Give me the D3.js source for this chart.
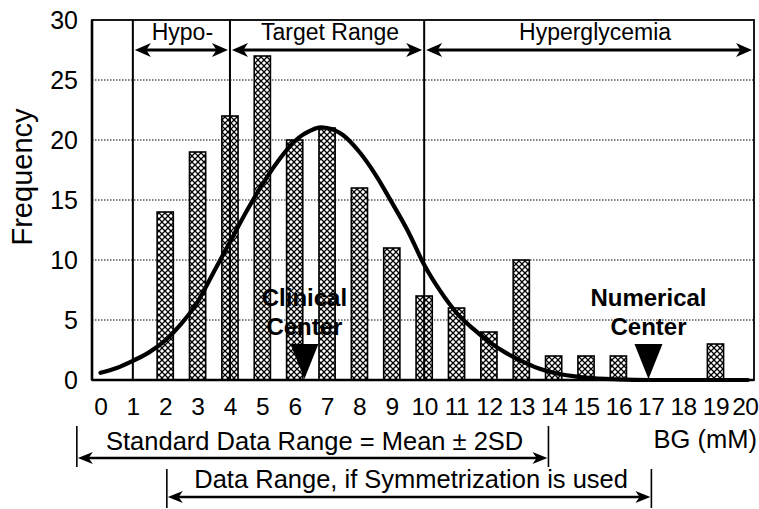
<!DOCTYPE html>
<html><head><meta charset="utf-8">
<script src="https://cdn.jsdelivr.net/npm/d3@7"></script>
<style>html,body{margin:0;padding:0;background:#fff;}svg{display:block;}text{font-family:"Liberation Sans",Arial,sans-serif;fill:#000;}</style>
</head><body><svg id="c" width="759" height="509"></svg>
<script>
// ---- data ----
const bgValues = d3.range(0, 21);               // BG categories (mM)
const frequencies = [0,0,14,19,22,27,20,21,16,11,7,6,4,10,2,2,2,0,0,3,0];
const xTicks = d3.range(0, 21);
const yTicks = [0,5,10,15,20,25,30];
const curveX = [0,0.5,1,1.5,2,2.5,3,3.5,4,4.5,5,5.5,6,6.5,6.8,7,7.5,8,8.5,9,9.5,10,10.5,11,11.5,12,12.5,13,13.5,14,15,16,17,18,19,20];
const curveY = [0.6,1.0,1.6,2.3,3.3,4.7,6.5,9.0,11.5,14.0,16.3,18.3,19.9,20.8,21.05,21.0,20.4,19.0,17.1,14.8,12.4,9.6,7.4,5.6,4.3,3.2,2.3,1.6,1.0,0.6,0.2,0.05,0,0,0,0];
const zoneBounds = [1, 4, 10];
const zoneLabels = ["Hypo-", "Target Range", "Hyperglycemia"];
const zoneRanges = [[1,4],[4,10],[10,20.19]];
const centerNames = [["Clinical","Center"],["Numerical","Center"]];
const centerValues = [6.3, 16.93];
const stdRange = [-0.73, 13.84];
const symRange = [2.05, 17.02];
const stdLabel = "Standard Data Range = Mean \u00b1 2SD";
const symLabel = "Data Range, if Symmetrization is used";

// ---- chart ----
const svg = d3.select("#c");
const x = d3.scaleLinear().domain([-0.262, 20.19]).range([92, 754]);
const y = d3.scaleLinear().domain([0, 30]).range([380, 20]);

const defs = svg.append("defs");
const P = 6;
const pat = defs.append("pattern").attr("id","hatch").attr("patternUnits","userSpaceOnUse")
  .attr("width",P).attr("height",P);
pat.append("rect").attr("width",P).attr("height",P).attr("fill","#fff");
pat.append("path").attr("d",`M-1,-1L${P+1},${P+1}M-1,${P+1}L${P+1},-1`).attr("stroke","#000").attr("stroke-width",1.25);

function arrowHead(g, tipX, tipY, dir, len, half) {
  const p = d3.path();
  p.moveTo(tipX, tipY);
  p.lineTo(tipX - dir*len, tipY - half);
  p.lineTo(tipX - dir*len*0.72, tipY);
  p.lineTo(tipX - dir*len, tipY + half);
  p.closePath();
  g.append("path").attr("d", p.toString()).attr("fill","#000");
}

// grid
svg.append("g").selectAll("line").data(yTicks.filter(d=>d>0 && d<30)).join("line")
  .attr("x1", x.range()[0]).attr("x2", x.range()[1])
  .attr("y1", d=>y(d)).attr("y2", d=>y(d))
  .attr("stroke","#000").attr("stroke-width",1).attr("stroke-dasharray","1.5,1.5");

// bars
const bw = x(0.25) - x(-0.25);
svg.append("g").selectAll("rect").data(bgValues.filter(v=>frequencies[v]>0)).join("rect")
  .attr("x", v => x(v) - bw/2).attr("width", bw)
  .attr("y", v => y(frequencies[v])).attr("height", v => y(0) - y(frequencies[v]))
  .attr("fill","url(#hatch)").attr("stroke","#000").attr("stroke-width",1.6);

// zone boundaries
svg.append("g").selectAll("line").data(zoneBounds).join("line")
  .attr("x1", d=>x(d)).attr("x2", d=>x(d)).attr("y1", y(30)).attr("y2", y(0))
  .attr("stroke","#000").attr("stroke-width",2);

// frame
svg.append("rect").attr("x", x.range()[0]).attr("y", y(30))
  .attr("width", x.range()[1]-x.range()[0]).attr("height", y(0)-y(30))
  .attr("fill","none").attr("stroke","#000").attr("stroke-width",1.8);
svg.append("line").attr("x1",x.range()[0]).attr("x2",x.range()[1]).attr("y1",y(0)).attr("y2",y(0))
  .attr("stroke","#000").attr("stroke-width",2.6);
svg.append("line").attr("x1",x.range()[0]).attr("x2",x.range()[0]).attr("y1",y(30)).attr("y2",y(0))
  .attr("stroke","#000").attr("stroke-width",2.6);

// curve
const line = d3.line().x((d,i)=>x(curveX[i])).y((d,i)=>y(curveY[i])).curve(d3.curveMonotoneX);
svg.append("path").datum(curveX).attr("d", line).attr("fill","none")
  .attr("stroke","#000").attr("stroke-width",4.2).attr("stroke-linecap","round");

// zone labels + arrows
const zg = svg.append("g");
const zoneDx = [1, 3, 6];
zoneRanges.forEach((r,i)=>{
  const a = x(r[0]) + 2, b = x(r[1]) - 2, yy = 50;
  zg.append("line").attr("x1",a+8).attr("x2",b-8).attr("y1",yy).attr("y2",yy)
    .attr("stroke","#000").attr("stroke-width",3.2);
  arrowHead(zg, a, yy, -1, 16, 7);
  arrowHead(zg, b, yy, 1, 16, 7);
  zg.append("text").attr("x",(x(r[0])+x(r[1]))/2 + zoneDx[i]).attr("y",40).attr("text-anchor","middle")
    .attr("font-size",23).text(zoneLabels[i]);
});

// center markers
const cg = svg.append("g");
centerValues.forEach((v,i)=>{
  const cx = x(v);
  cg.append("path").attr("d", `M${cx-14},344L${cx+14},344L${cx},${y(0)-1}Z`).attr("fill","#000");
  cg.append("text").attr("x",cx).attr("y",306).attr("text-anchor","middle")
    .attr("font-size",24).attr("font-weight","bold").text(centerNames[i][0]);
  cg.append("text").attr("x",cx).attr("y",335).attr("text-anchor","middle")
    .attr("font-size",24).attr("font-weight","bold").text(centerNames[i][1]);
});

// axes
const xa = svg.append("g").attr("transform",`translate(0,${y(0)})`)
  .call(d3.axisBottom(x).tickValues(xTicks).tickSize(0).tickPadding(18).tickFormat(d3.format("d")));
xa.select(".domain").remove();
xa.selectAll("text").attr("font-size",24.5).attr("font-family","Liberation Sans, Arial, sans-serif").attr("fill","#000")
  .attr("letter-spacing", d => d >= 10 ? -0.5 : 0)
  .attr("dx", d => d === 20 ? -3 : 0);
const ya = svg.append("g").attr("transform",`translate(${x.range()[0]},0)`)
  .call(d3.axisLeft(y).tickValues(yTicks).tickSize(0).tickPadding(14));
ya.select(".domain").remove();
ya.selectAll("text").attr("font-size",25).attr("font-family","Liberation Sans, Arial, sans-serif").attr("fill","#000");

svg.append("text").attr("transform","translate(32,177) rotate(-90)").attr("text-anchor","middle")
  .attr("font-size",29).text("Frequency");
svg.append("text").attr("x",757).attr("y",448).attr("text-anchor","end").attr("font-size",25.5).text("BG (mM)");

// data range arrows
const rg = svg.append("g");
function rangeArrow(r, yy, t0, t1, label, ly) {
  const a = x(r[0]), b = x(r[1]);
  rg.append("line").attr("x1",a).attr("x2",a).attr("y1",t0).attr("y2",t1).attr("stroke","#000").attr("stroke-width",1.6);
  rg.append("line").attr("x1",b).attr("x2",b).attr("y1",t0).attr("y2",t1).attr("stroke","#000").attr("stroke-width",1.6);
  rg.append("line").attr("x1",a+8).attr("x2",b-8).attr("y1",yy).attr("y2",yy).attr("stroke","#000").attr("stroke-width",2.6);
  arrowHead(rg, a+1, yy, -1, 15, 6);
  arrowHead(rg, b-1, yy, 1, 15, 6);
  rg.append("text").attr("x",(a+b)/2 + 2).attr("y",ly).attr("text-anchor","middle").attr("font-size",25.5).text(label);
}
rangeArrow(stdRange, 458, 426, 467, stdLabel, 450);
rangeArrow(symRange, 497, 469, 508, symLabel, 488);
</script></body></html>
